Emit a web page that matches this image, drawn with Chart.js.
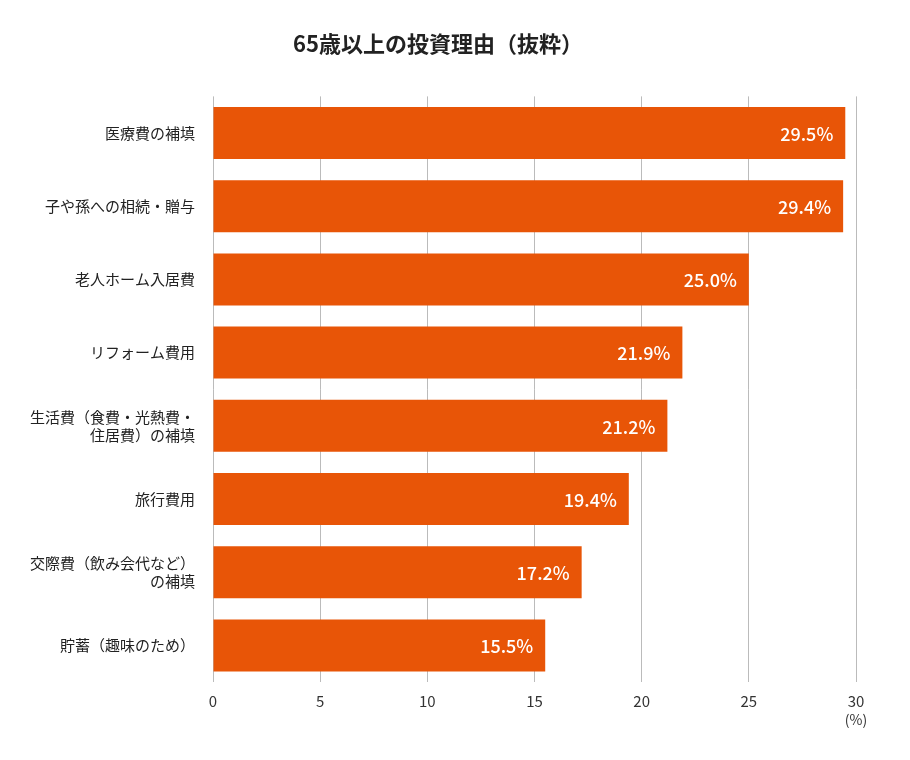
<!DOCTYPE html>
<html><head><meta charset="utf-8">
<script src="https://cdn.jsdelivr.net/npm/chart.js@4"></script>
<style>body{margin:0;background:#fff}</style>
</head><body><canvas id="c" width="910" height="760"></canvas>
<script>
const categories=[["医療費の補填"],["子や孫への相続・贈与"],["老人ホーム入居費"],["リフォーム費用"],["生活費（食費・光熱費・","住居費）の補填"],["旅行費用"],["交際費（飲み会代など）","の補填"],["貯蓄（趣味のため）"]];
const values=[29.5,29.4,25.0,21.9,21.2,19.4,17.2,15.5];
const xTicks=[0,5,10,15,20,25,30];
const F="'Noto Sans CJK JP','Noto Sans',sans-serif";
const labelPlugin={id:'lbl',afterDatasetsDraw(ch){const c=ch.ctx;const m=ch.getDatasetMeta(0);c.save();c.font="500 18px "+F;c.fillStyle="#fff";c.textAlign="right";c.textBaseline="middle";m.data.forEach((b,i)=>{c.fillText(values[i].toFixed(1)+"%",b.x-12,b.y+1);});
const xs=ch.scales.x;c.fillStyle="#333";c.font="14px "+F;c.textAlign="center";c.fillText("(%)",xs.getPixelForValue(30),720);c.restore();}};
new Chart(document.getElementById('c'),{type:'bar',data:{labels:categories,datasets:[{data:values,backgroundColor:'#E85507',categoryPercentage:0.71,barPercentage:1}]},
options:{indexAxis:'y',responsive:false,animation:false,devicePixelRatio:1,
layout:{padding:{left:20,right:54,top:10,bottom:40}},
plugins:{legend:{display:false},tooltip:{enabled:false},title:{display:true,text:'65歳以上の投資理由（抜粋）',color:'#222',font:{family:F,size:22,weight:'bold'},padding:{top:20,bottom:40}}},
scales:{x:{min:0,max:30,afterBuildTicks(a){a.ticks=xTicks.map(v=>({value:v}));},grid:{color:'#bbb',drawTicks:false},border:{display:false},ticks:{color:'#333',font:{family:F,size:15},padding:10}},
y:{grid:{display:false},border:{display:false},ticks:{color:'#222',font:{family:F,size:15},padding:10}}}}
,plugins:[labelPlugin]});
</script></body></html>
